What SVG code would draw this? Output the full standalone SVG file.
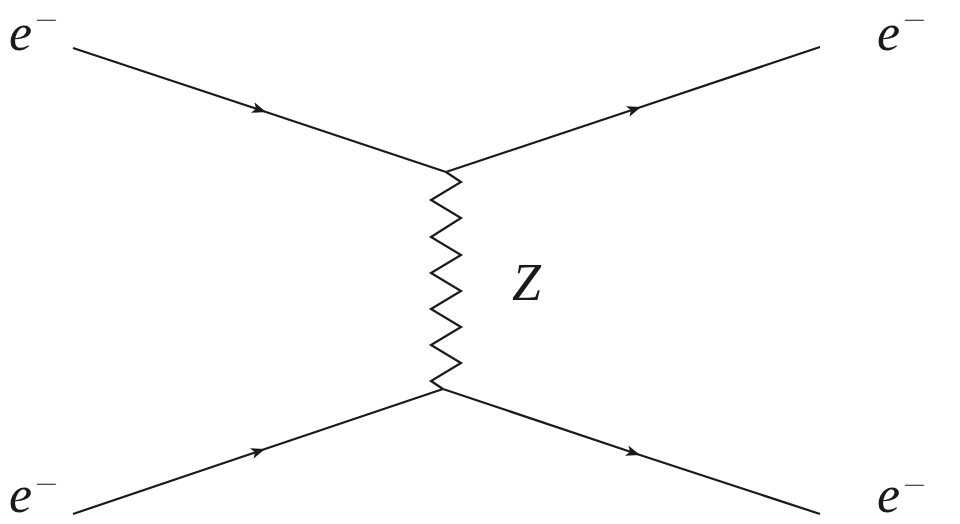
<svg xmlns="http://www.w3.org/2000/svg" width="960" height="524" viewBox="0 0 960 524">
<defs>
<marker id="arr" markerUnits="userSpaceOnUse" viewBox="-15 -7 16 14" refX="0" refY="0" markerWidth="16" markerHeight="14" orient="auto">
<path d="M0,0 L-14,-5.5 L-10.5,0 L-14,5.5 Z" fill="#1a1a1a"/>
</marker>
</defs>
<style>
.f{fill:none;stroke:#1a1a1a;stroke-width:2.2;stroke-linejoin:miter}
.lbl{font-family:"Liberation Serif",serif;font-style:italic;font-size:52px;fill:#1a1a1a}
.sup{font-family:"Liberation Serif",serif;font-size:24px;fill:#1a1a1a}
</style>
<rect width="960" height="524" fill="#ffffff"/>
<g id="connectors">
<path id="e-in-top" class="f" d="M73,48 L266,112 L446,172" marker-mid="url(#arr)"/>
<path id="e-out-top" class="f" d="M446,172 L641,107 L820,47" marker-mid="url(#arr)"/>
<path id="e-in-bottom" class="f" d="M73,514 L265,449 L443,389" marker-mid="url(#arr)"/>
<path id="e-out-bottom" class="f" d="M443,389 L640,455 L820,514" marker-mid="url(#arr)"/>
<path id="z-boson" class="f" d="M446,172 L461,182 L431,200 L461,218 L431,237 L461,255 L431,273 L461,291 L431,309 L461,327 L431,345 L461,363 L431,381 L443,389"/>
</g>
<g id="label-e-top-left"><text class="lbl" x="9" y="50">e</text><text class="sup" x="35" y="28" textLength="23" lengthAdjust="spacingAndGlyphs">−</text></g>
<g id="label-e-bottom-left"><text class="lbl" x="9" y="512">e</text><text class="sup" x="35" y="492" textLength="23" lengthAdjust="spacingAndGlyphs">−</text></g>
<g id="label-e-top-right"><text class="lbl" x="877" y="50">e</text><text class="sup" x="903" y="28" textLength="23" lengthAdjust="spacingAndGlyphs">−</text></g>
<g id="label-e-bottom-right"><text class="lbl" x="877" y="512">e</text><text class="sup" x="903" y="493" textLength="23" lengthAdjust="spacingAndGlyphs">−</text></g>
<g id="label-Z"><text class="lbl" x="512" y="300">Z</text></g>
</svg>
